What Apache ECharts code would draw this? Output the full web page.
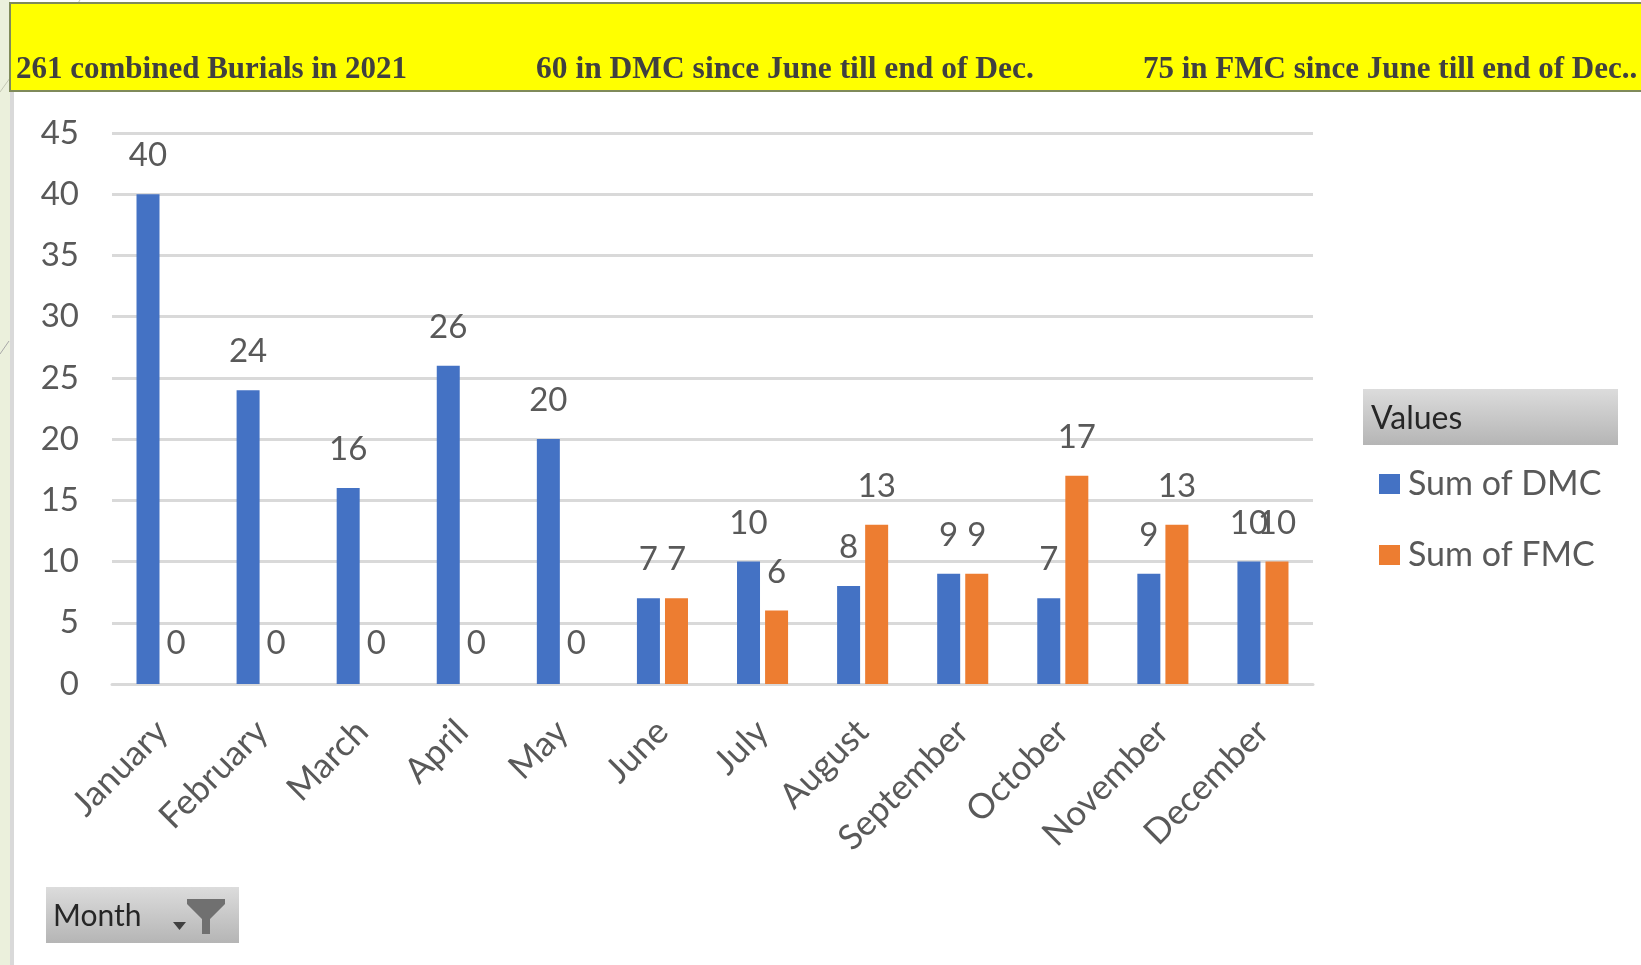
<!DOCTYPE html>
<html><head><meta charset="utf-8">
<style>html,body{margin:0;padding:0;background:#fff}#c{width:1641px;height:965px}</style>
<script src="https://cdn.jsdelivr.net/npm/echarts@6/dist/echarts.min.js"></script>
</head><body><div id="c"></div>
<script>
const months=['January','February','March','April','May','June','July','August','September','October','November','December'];
const dmc=[40,24,16,26,20,7,10,8,9,7,9,10];
const fmc=[0,0,0,0,0,7,6,13,9,17,13,10];
const seriesNames=['Sum of DMC','Sum of FMC'];
const headerTexts=['261 combined Burials in 2021','60 in DMC since June till end of Dec.','75 in FMC since June till end of Dec..'];
const legendTitle='Values';
const filterTitle='Month';
const sans='"Lato",sans-serif';
const serif='"Liberation Serif",serif';
const grey='#595959';
const boxFill={type:'linear',x:0,y:0,x2:0,y2:1,colorStops:[{offset:0,color:'#dcdcdc'},{offset:1,color:'#b5b5b5'}]};
const chart=echarts.init(document.getElementById('c'),null,{renderer:'canvas'});
function barSeries(name,data,color){
  return {name,type:'bar',
    data:data.map(v=>v===0?{value:v,label:{distance:24}}:v),
    barWidth:23,barGap:'22%',itemStyle:{color},
    label:{show:true,position:'top',distance:22,color:grey,fontFamily:sans,fontSize:33}};
}
chart.setOption({
  animation:false,
  backgroundColor:'#fff',
  grid:{left:112,top:133,width:1201,height:551,containLabel:false},
  xAxis:{type:'category',data:months,axisTick:{show:false},
    axisLine:{lineStyle:{color:'#d9d9d9',width:3}},
    axisLabel:{rotate:45,interval:0,margin:42,color:grey,fontFamily:sans,fontSize:35}},
  yAxis:{type:'value',min:0,max:45,interval:5,axisLine:{show:false},axisTick:{show:false},
    splitLine:{lineStyle:{color:'#d9d9d9',width:3}},
    axisLabel:{margin:33,color:grey,fontFamily:sans,fontSize:33,padding:[6,0,0,0]}},
  legend:{orient:'vertical',left:1374,top:462,itemWidth:21,itemHeight:20,itemGap:37,
    icon:'rect',textStyle:{color:grey,fontFamily:sans,fontSize:34,padding:[0,0,0,3]},
    selectedMode:false},
  series:[barSeries(seriesNames[0],dmc,'#4472c4'),barSeries(seriesNames[1],fmc,'#ed7d31')],
  graphic:[
    {type:'rect',z:-1,shape:{x:0,y:0,width:10,height:965},style:{fill:'#ebf0dc'}},
    {type:'rect',z:-1,shape:{x:10,y:91,width:4,height:874},style:{fill:'#d9d9d9'}},
    {type:'line',z:-1,shape:{x1:0,y1:354,x2:9,y2:341},style:{stroke:'#a8a8a8',lineWidth:1}},
    {type:'line',z:-1,shape:{x1:0,y1:92,x2:10,y2:78},style:{stroke:'#c4c8b4',lineWidth:1}},
    {type:'line',z:-1,shape:{x1:78,y1:3,x2:80,y2:0},style:{stroke:'#c4c8b4',lineWidth:1}},
    {type:'rect',z:1,shape:{x:10,y:3,width:1640,height:88},style:{fill:'#ffff00',stroke:'#7f8a5a',lineWidth:2}},
    {type:'text',z:2,x:16,y:70,style:{text:headerTexts[0],fill:'#404040',font:'bold 31px '+serif,textVerticalAlign:'middle'}},
    {type:'text',z:2,x:536,y:70,style:{text:headerTexts[1],fill:'#404040',font:'bold 31.5px '+serif,textVerticalAlign:'middle'}},
    {type:'text',z:2,x:1143,y:70,style:{text:headerTexts[2],fill:'#404040',font:'bold 31px '+serif,textVerticalAlign:'middle'}},
    {type:'rect',z:1,shape:{x:1363,y:389,width:255,height:56},style:{fill:boxFill}},
    {type:'text',z:2,x:1371,y:419,style:{text:legendTitle,fill:'#262626',font:'32px '+sans,textVerticalAlign:'middle'}},
    {type:'rect',z:1,shape:{x:46,y:887,width:193,height:56},style:{fill:boxFill}},
    {type:'text',z:2,x:53,y:916,style:{text:filterTitle,fill:'#262626',font:'30px '+sans,textVerticalAlign:'middle'}},
    {type:'polygon',z:2,shape:{points:[[187,899],[225,899],[225,904],[210,919],[210,934],[202,934],[202,919],[187,904]]},style:{fill:'#707070'}},
    {type:'polygon',z:2,shape:{points:[[173,922],[186,922],[179.5,930]]},style:{fill:'#404040'}}
  ]
});
</script></body></html>
